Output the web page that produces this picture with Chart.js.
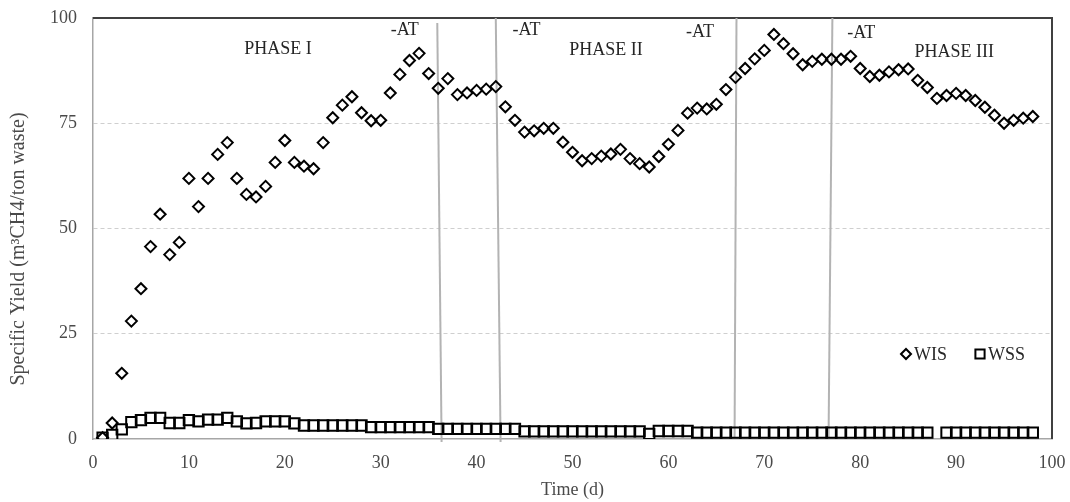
<!DOCTYPE html>
<html>
<head>
<meta charset="utf-8">
<script src="https://cdn.jsdelivr.net/npm/chart.js@4.4.1/dist/chart.umd.min.js"></script>
<style>
  html, body { margin: 0; padding: 0; background: #fff; }
</style>
</head>
<body>
<canvas id="yieldChart" width="1070" height="502"></canvas>
<script>
// Dias de operação (d)
const days = [
  1, 2, 3, 4, 5, 6, 7, 8, 9, 10, 11, 12, 13, 14, 15, 16, 17, 18, 19, 20,
  21, 22, 23, 24, 25, 26, 27, 28, 29, 30, 31, 32, 33, 34, 35, 36, 37, 38, 39, 40,
  41, 42, 43, 44, 45, 46, 47, 48, 49, 50, 51, 52, 53, 54, 55, 56, 57, 58, 59, 60,
  61, 62, 63, 64, 65, 66, 67, 68, 69, 70, 71, 72, 73, 74, 75, 76, 77, 78, 79, 80,
  81, 82, 83, 84, 85, 86, 87, 88, 89, 90, 91, 92, 93, 94, 95, 96, 97, 98
];

// Rendimento específico WIS (m3 CH4 / ton)
const wisYield = [
  0.3, 3.8, 15.6, 28.0, 35.7, 45.7, 53.4, 43.8, 46.7, 61.9,
  55.2, 61.9, 67.6, 70.4, 61.9, 58.1, 57.5, 60.0, 65.7, 70.9,
  65.7, 64.8, 64.2, 70.4, 76.3, 79.3, 81.3, 77.5, 75.6, 75.7,
  82.2, 86.6, 89.9, 91.6, 86.8, 83.3, 85.6, 81.8, 82.2, 82.8,
  83.1, 83.7, 78.9, 75.7, 72.9, 73.2, 73.8, 73.8, 70.5, 68.1,
  66.1, 66.6, 67.2, 67.7, 68.8, 66.6, 65.4, 64.6, 67.1, 70.0,
  73.3, 77.4, 78.6, 78.4, 79.5, 83.0, 85.9, 88.0, 90.3, 92.3,
  96.1, 93.9, 91.5, 88.9, 89.7, 90.2, 90.2, 90.2, 90.9, 88.0,
  86.1, 86.4, 87.2, 87.7, 87.9, 85.2, 83.5, 80.9, 81.6, 82.1,
  81.6, 80.4, 78.8, 76.9, 75.0, 75.7, 76.2, 76.6
];

// Rendimento específico WSS (dia 88 sem medição)
const wssYield = [
  0.3, 1.0, 2.3, 4.0, 4.5, 5.0, 5.0, 3.8, 3.8, 4.5,
  4.2, 4.6, 4.6, 5.0, 4.2, 3.7, 3.8, 4.2, 4.2, 4.2,
  3.7, 3.2, 3.2, 3.2, 3.2, 3.2, 3.2, 3.2, 2.8, 2.8,
  2.8, 2.8, 2.8, 2.8, 2.8, 2.4, 2.4, 2.4, 2.4, 2.4,
  2.4, 2.4, 2.4, 2.4, 1.8, 1.8, 1.8, 1.8, 1.8, 1.8,
  1.8, 1.8, 1.8, 1.8, 1.8, 1.8, 1.8, 1.2, 1.9, 1.9,
  1.9, 1.9, 1.5, 1.5, 1.5, 1.5, 1.5, 1.5, 1.5, 1.5,
  1.5, 1.5, 1.5, 1.5, 1.5, 1.5, 1.5, 1.5, 1.5, 1.5,
  1.5, 1.5, 1.5, 1.5, 1.5, 1.5, 1.5, null, 1.5, 1.5,
  1.5, 1.5, 1.5, 1.5, 1.5, 1.5, 1.5, 1.5
];

// Linhas de mudança de fase (topo / base, em dias)
const phaseLineTopX = [35.9, 42.0, 67.1, 77.1];
const phaseLineBottomX = [36.35, 42.5, 66.9, 76.7];
const phaseLineTopY = [98.8, 100, 100, 100];
const phaseLineBottomY = [-0.7, -0.7, 0, 0];

// Textos dentro do gráfico
const noteText = ['PHASE I', '-AT', '-AT', 'PHASE II', '-AT', '-AT', 'PHASE III'];
const noteX = [19.3, 32.5, 45.2, 53.5, 63.3, 80.1, 89.8];
const noteY = [92.5, 97.0, 97.0, 92.3, 96.6, 96.3, 91.8];

const xTickStep = 10;
const yTickValues = [0, 25, 50, 75, 100];
const yTitle = 'Specific Yield (m³CH4/ton waste)';

const serif = '"Liberation Serif", "Times New Roman", serif';
const textColor = '#4a4a4a';

// Monta os datasets das linhas verticais
const phaseLineSets = phaseLineTopX.map((xTop, i) => ({
  label: 'fase' + i,
  data: [
    { x: xTop, y: phaseLineTopY[i] },
    { x: phaseLineBottomX[i], y: phaseLineBottomY[i] }
  ],
  showLine: true,
  borderColor: '#b3b3b3',
  borderWidth: 2,
  pointRadius: 0,
  clip: false,
  order: 3
}));

// Zera o espaço extra que o Chart.js reserva para os rótulos das pontas
function fixFit(size) {
  return s => {
    if (s.isHorizontal()) s.height = size; else s.width = size;
    s.paddingTop = 0;
    s.paddingBottom = 0;
    s.paddingLeft = 0;
    s.paddingRight = 0;
  };
}

// Plugin: borda superior/direita da área do gráfico
const plotFrame = {
  id: 'plotFrame',
  beforeDatasetsDraw(chart) {
    const { ctx, chartArea: a } = chart;
    ctx.save();
    ctx.strokeStyle = '#404040';
    ctx.lineWidth = 2;
    ctx.beginPath();
    ctx.moveTo(a.left, a.top);
    ctx.lineTo(a.right, a.top);
    ctx.lineTo(a.right, a.bottom);
    ctx.stroke();
    ctx.restore();
  }
};

// Plugin: textos de fase + título do eixo Y (um pouco abaixo do centro, como no original)
const phaseNotes = {
  id: 'phaseNotes',
  afterDatasetsDraw(chart) {
    const { ctx, scales: { x, y } } = chart;
    ctx.save();
    ctx.fillStyle = '#262626';
    ctx.font = '18px ' + serif;
    ctx.textAlign = 'center';
    ctx.textBaseline = 'middle';
    noteText.forEach((t, i) => {
      ctx.fillText(t, x.getPixelForValue(noteX[i]), y.getPixelForValue(noteY[i]));
    });
    ctx.translate(19, 249);
    ctx.rotate(-Math.PI / 2);
    ctx.fillStyle = textColor;
    ctx.font = '20px ' + serif;
    ctx.fillText(yTitle, 0, 0);
    ctx.restore();
  }
};

// Plugin: legenda dentro da área
const innerLegend = {
  id: 'innerLegend',
  afterDatasetsDraw(chart) {
    const { ctx } = chart;
    const items = [
      { ds: chart.data.datasets[0], x: 906, r: 5 },
      { ds: chart.data.datasets[1], x: 980, r: 6.5 }
    ];
    const yMid = 354;
    ctx.save();
    ctx.font = '18px ' + serif;
    ctx.textBaseline = 'middle';
    items.forEach(it => {
      ctx.strokeStyle = '#000';
      ctx.fillStyle = 'rgba(0,0,0,0)';
      ctx.lineWidth = 2;
      Chart.helpers.drawPoint(ctx, { pointStyle: it.ds.pointStyle, radius: it.r, borderWidth: 2 }, it.x, yMid);
      ctx.fillStyle = '#262626';
      ctx.fillText(it.ds.label, it.x + 8, yMid + 1);
    });
    ctx.restore();
  }
};

new Chart(document.getElementById('yieldChart'), {
  type: 'scatter',
  data: {
    datasets: [
      {
        label: 'WIS',
        data: days.map((d, i) => ({ x: d, y: wisYield[i] })),
        pointStyle: 'rectRot',
        pointRadius: 5.5,
        pointBorderWidth: 2,
        borderColor: '#000',
        backgroundColor: 'rgba(0,0,0,0)',
        order: 1
      },
      {
        label: 'WSS',
        data: days.map((d, i) => ({ x: d, y: wssYield[i] })),
        pointStyle: 'rect',
        pointRadius: 7.3,
        pointBorderWidth: 2,
        borderColor: '#000',
        backgroundColor: 'rgba(0,0,0,0)',
        order: 2
      },
      ...phaseLineSets
    ]
  },
  options: {
    responsive: false,
    animation: false,
    layout: { padding: { top: 18, right: 18, left: 0, bottom: 0 } },
    plugins: {
      legend: { display: false },
      tooltip: { enabled: false }
    },
    scales: {
      x: {
        type: 'linear',
        min: 0,
        max: 100,
        afterFit: fixFit(63),
        ticks: {
          stepSize: xTickStep,
          padding: 13,
          color: textColor,
          font: { family: serif, size: 18 }
        },
        grid: { display: false, drawTicks: false },
        border: { display: true, color: '#a6a6a6', width: 1.5 },
        title: {
          display: true,
          text: 'Time (d)',
          color: textColor,
          font: { family: serif, size: 18 },
          padding: { top: 0, bottom: 1 }
        }
      },
      y: {
        min: 0,
        max: 100,
        afterFit: fixFit(93),
        afterBuildTicks: s => { s.ticks = yTickValues.map(v => ({ value: v })); },
        ticks: {
          padding: 16,
          color: textColor,
          font: { family: serif, size: 18 }
        },
        grid: {
          drawTicks: false,
          lineWidth: 1,
          color: c => (c.tick && c.tick.value > 0 && c.tick.value < 100) ? '#cfcfcf' : 'rgba(0,0,0,0)'
        },
        border: { display: true, color: '#a6a6a6', width: 1.5, dash: [4, 3] }
      }
    }
  },
  plugins: [plotFrame, phaseNotes, innerLegend]
});
</script>
</body>
</html>
